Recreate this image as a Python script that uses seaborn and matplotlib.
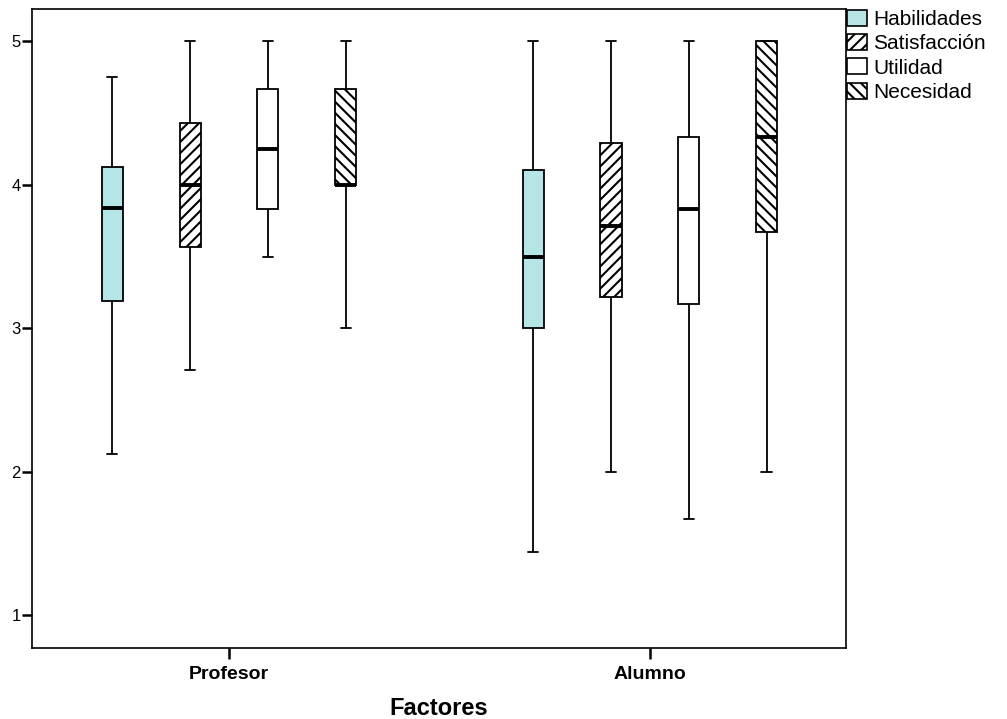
import numpy as np
import pandas as pd
import matplotlib
matplotlib.use("Agg")
import matplotlib.pyplot as plt
from matplotlib.patches import Patch
import seaborn as sns

# ---- data (five-number summaries) ----
groups = ["Profesor", "Alumno"]
factors = ["Habilidades", "Satisfacción", "Utilidad", "Necesidad"]
# each entry: [min, Q1, median, Q3, max]
profesor_hab = [2.125, 3.19, 3.84, 4.125, 4.75]
profesor_sat = [2.71, 3.57, 4.00, 4.43, 5.00]
profesor_uti = [3.50, 3.83, 4.25, 4.67, 5.00]
profesor_nec = [3.00, 4.00, 4.00, 4.67, 5.00]
alumno_hab = [1.44, 3.00, 3.50, 4.10, 5.00]
alumno_sat = [2.00, 3.22, 3.71, 4.29, 5.00]
alumno_uti = [1.67, 3.17, 3.83, 4.33, 5.00]
alumno_nec = [2.00, 3.67, 4.33, 5.00, 5.00]

colors = ["#B5E5E5", "#FFFFFF", "#FFFFFF", "#FFFFFF"]
hatches = ["", "///", "", "\\\\\\"]

summaries = {
    ("Profesor", "Habilidades"): profesor_hab,
    ("Profesor", "Satisfacción"): profesor_sat,
    ("Profesor", "Utilidad"): profesor_uti,
    ("Profesor", "Necesidad"): profesor_nec,
    ("Alumno", "Habilidades"): alumno_hab,
    ("Alumno", "Satisfacción"): alumno_sat,
    ("Alumno", "Utilidad"): alumno_uti,
    ("Alumno", "Necesidad"): alumno_nec,
}
rows = []
for (g, f), vals in summaries.items():
    for v in vals:
        rows.append({"Grupo": g, "Factor": f, "Valor": v})
df = pd.DataFrame(rows)

sns.set_style("ticks")
plt.rcParams["font.family"] = ["Liberation Sans", "DejaVu Sans"]
plt.rcParams["hatch.linewidth"] = 1.5
plt.rcParams["text.color"] = "black"
plt.rcParams["axes.labelcolor"] = "black"

fig = plt.figure(figsize=(10.07, 7.19), dpi=100)
ax = fig.add_axes([0.0318, 0.0992, 0.8084, 0.8878])

sns.boxplot(
    data=df, x="Grupo", y="Valor", hue="Factor",
    order=groups, hue_order=factors,
    palette=dict(zip(factors, colors)),
    whis=(0, 100), width=0.74, gap=0.73,
    linecolor="black", linewidth=1.3,
    medianprops={"linewidth": 2.8, "color": "black"},
    showfliers=False, saturation=1, legend=False, ax=ax,
)

# apply hatches (patches are drawn per hue level, one per group)
for i, p in enumerate(ax.patches):
    k = i // len(groups)
    p.set_hatch(hatches[k])
    p.set_edgecolor("black")

ax.set_xlim(-0.468, 1.466)
ax.set_ylim(0.774, 5.223)
ax.set_yticks([1, 2, 3, 4, 5])
ax.set_yticklabels(["1", "2", "3", "4", "5"])
ax.tick_params(axis="y", length=7, width=1.8, labelsize=12, pad=1,
               colors="black", labelcolor="black")
ax.tick_params(axis="x", length=8, width=1.8, labelsize=14, pad=5,
               colors="black", labelcolor="black")
for lbl in ax.get_xticklabels():
    lbl.set_fontweight("bold")
ax.set_xlabel("Factores", fontsize=17, fontweight="bold", labelpad=10,
              color="black")
ax.set_ylabel("")
for s in ax.spines.values():
    s.set_visible(True)
    s.set_linewidth(1.2)
    s.set_color("black")

handles = [Patch(facecolor=c, edgecolor="black", hatch=h, linewidth=1.2)
           for c, h in zip(colors, hatches)]
leg = fig.legend(handles, factors, loc="upper left",
                 bbox_to_anchor=(847 / 1007, 1 - 10 / 719),
                 frameon=False, fontsize=15, borderpad=0, borderaxespad=0,
                 handlelength=0.95, handleheight=0.8, handletextpad=0.3,
                 labelspacing=0.24)
for t in leg.get_texts():
    t.set_color("black")

fig.savefig("out.png", dpi=100)
